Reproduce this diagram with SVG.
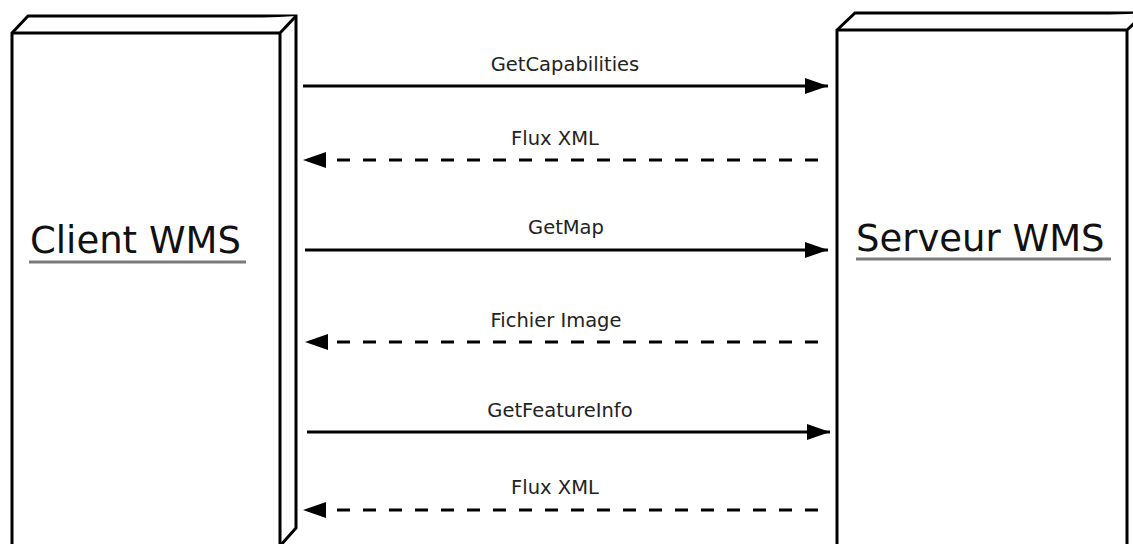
<svg xmlns="http://www.w3.org/2000/svg" width="1133" height="544" viewBox="0 0 1133 544">
<style>
.box{fill:#fff;stroke:#000;stroke-width:3;stroke-linejoin:miter}
.title{font-family:"DejaVu Sans",sans-serif;font-size:37px;fill:#111}
.ul{stroke:#7a7a7a;stroke-width:3}
.lbl{font-family:"DejaVu Sans",sans-serif;font-size:19.5px;fill:#222;text-anchor:middle}
.req{stroke:#000;stroke-width:3;fill:none;marker-end:url(#ah)}
.rsp{stroke:#000;stroke-width:3;fill:none;stroke-dasharray:13 13;marker-end:url(#ah)}
</style>
<defs>
<marker id="ah" markerUnits="userSpaceOnUse" markerWidth="26" markerHeight="18" refX="23" refY="8" orient="auto">
<path d="M0,0 L23,8 L0,16 Z" fill="#000"/>
</marker>
</defs>
<rect width="1133" height="544" fill="#fff"/>
<g id="client">
<path class="box" d="M12,33 L28,16 L296,16 L296,528 L280,546 L12,546 Z"/>
<path class="box" d="M12,33 L280,33 L296,16 M280,33 L280,546" fill="none"/>
<text class="title" x="30" y="253">Client WMS</text>
<line class="ul" x1="29" y1="262" x2="246" y2="262"/>
</g>
<g id="serveur">
<path class="box" d="M837,30 L855,13 L1150,13 L1150,546 L837,546 Z"/>
<path class="box" d="M837,30 L1127,30 L1145,13 M1127,30 L1127,546" fill="none"/>
<text class="title" x="856" y="251">Serveur WMS</text>
<line class="ul" x1="856" y1="259" x2="1111" y2="259"/>
</g>
<g id="connectors">
<line class="req" x1="303" y1="86" x2="828" y2="86"/>
<text class="lbl" x="565" y="71">GetCapabilities</text>
<line class="rsp" x1="818" y1="160" x2="303" y2="160"/>
<text class="lbl" x="555" y="145">Flux XML</text>
<line class="req" x1="305" y1="250" x2="828" y2="250"/>
<text class="lbl" x="566" y="234">GetMap</text>
<line class="rsp" x1="818" y1="342" x2="305" y2="342"/>
<text class="lbl" x="556" y="327">Fichier Image</text>
<line class="req" x1="307" y1="432" x2="830" y2="432"/>
<text class="lbl" x="560" y="417">GetFeatureInfo</text>
<line class="rsp" x1="818" y1="510" x2="303" y2="510"/>
<text class="lbl" x="555" y="494">Flux XML</text>
</g>
</svg>
